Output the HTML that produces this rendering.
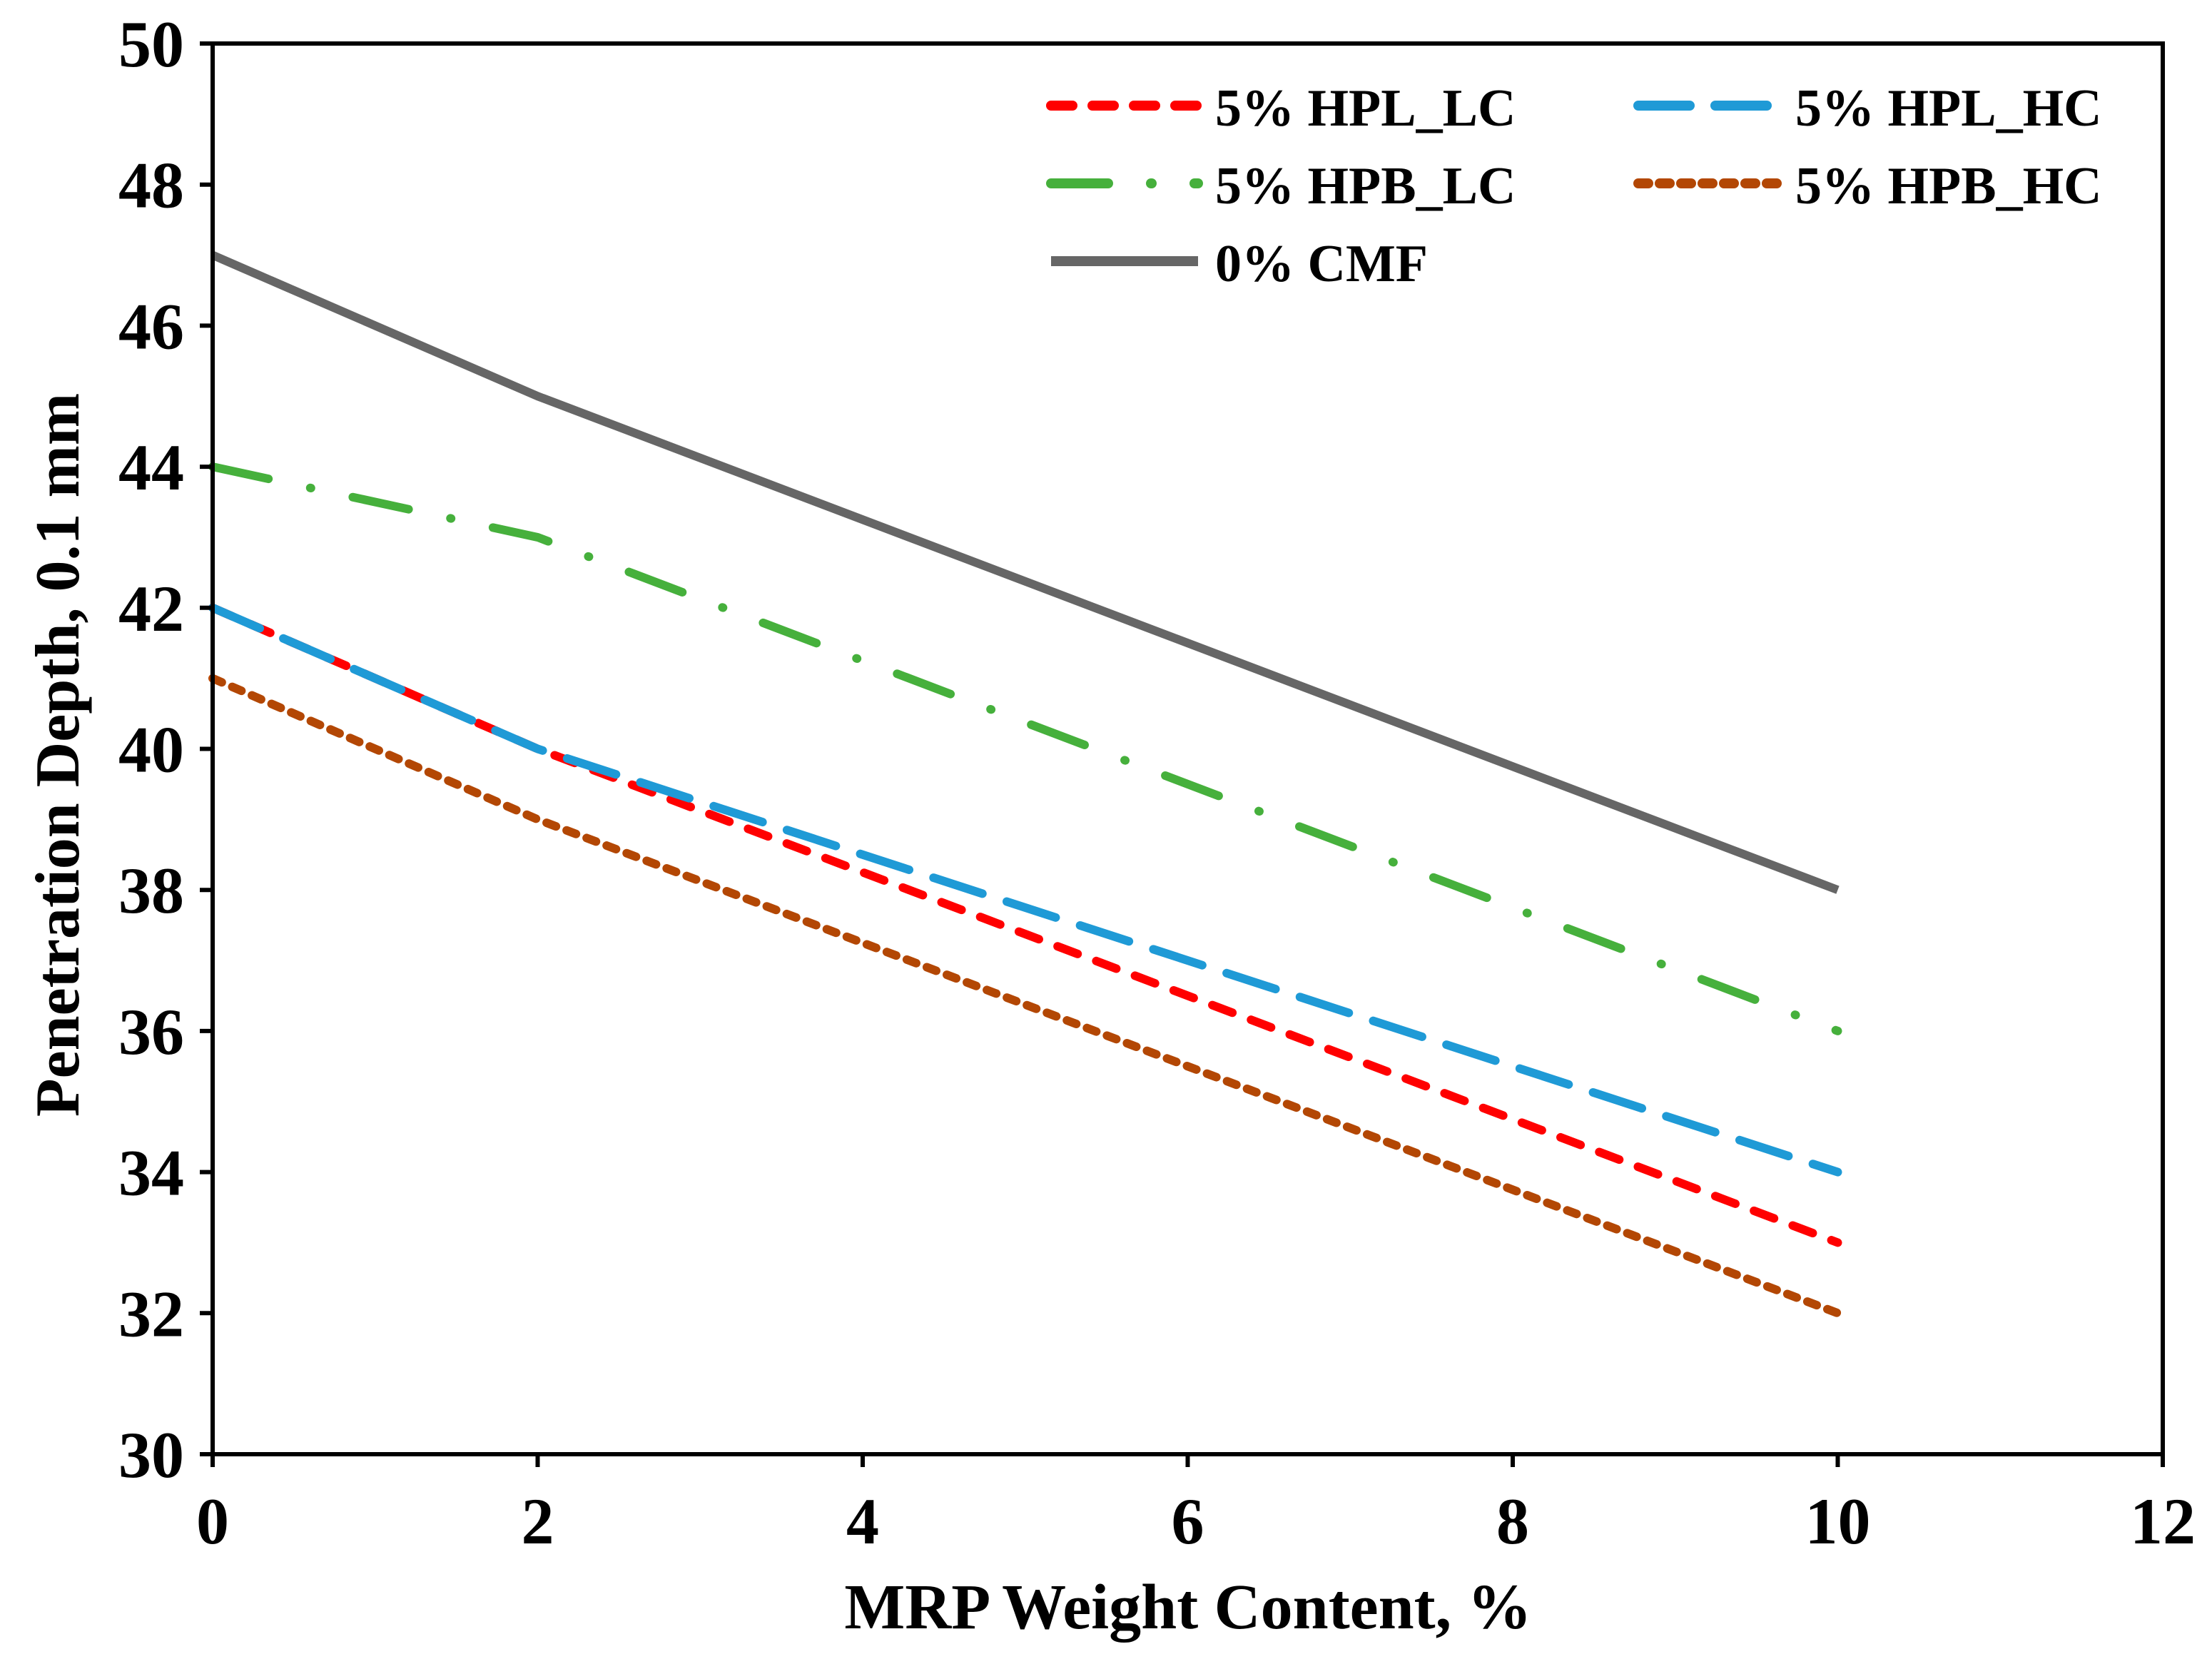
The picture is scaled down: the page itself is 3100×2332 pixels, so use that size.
<!DOCTYPE html>
<html><head><meta charset="utf-8"><style>
html,body{margin:0;padding:0;background:#fff}
svg text{font-family:"Liberation Serif",serif;font-weight:bold;fill:#000}
</style></head><body>
<svg id="chart" width="3100" height="2327" viewBox="0 0 3100 2327" xmlns="http://www.w3.org/2000/svg">
<g id="series"></g>
<g id="axes"></g>
<g id="legend"></g>
<text x="1665" y="2282" font-size="90" text-anchor="middle">MRP Weight Content, %</text>
<text x="0" y="0" font-size="88" text-anchor="middle" transform="translate(110,1058) rotate(-90)">Penetration Depth, 0.1 mm</text>
</svg>
<script>
const xValues = [0, 2, 10];
const seriesNames = ["5% HPL_LC", "5% HPL_HC", "5% HPB_LC", "5% HPB_HC", "0% CMF"];
const hplLC = [42, 40, 33];
const hplHC = [42, 40, 34];
const hpbLC = [44, 43, 36];
const hpbHC = [41, 39, 32];
const cmf = [47, 45, 38];
const xTicks = [0, 2, 4, 6, 8, 10, 12];
const yTicks = [30, 32, 34, 36, 38, 40, 42, 44, 46, 48, 50];

const L = 298, R = 3031, T = 61, B = 2038;
const xMin = 0, xMax = 12, yMin = 30, yMax = 50;
const sx = v => L + (v - xMin) / (xMax - xMin) * (R - L);
const sy = v => B - (v - yMin) / (yMax - yMin) * (B - T);
const NS = "http://www.w3.org/2000/svg";
function mk(tag, attrs, parent) {
  const e = document.createElementNS(NS, tag);
  for (const k in attrs) e.setAttribute(k, attrs[k]);
  parent.appendChild(e);
  return e;
}
const styles = [
  {c: "#ff0000", d: "30 28", cap: "round"},
  {c: "#1f9ad6", d: "72 36", cap: "round"},
  {c: "#46b03c", d: "80 60 1 60", cap: "round"},
  {c: "#b34704", d: "14 16", cap: "round"},
  {c: "#666666", d: "none", cap: "butt"}
];
const seriesData = [hplLC, hplHC, hpbLC, hpbHC, cmf];
const sg = document.getElementById("series");
const order = [4, 2, 0, 1, 3];
order.forEach(i => {
  const pts = xValues.map((x, j) => sx(x) + "," + sy(seriesData[i][j])).join(" ");
  const p = mk("polyline", {points: pts, fill: "none", stroke: styles[i].c, "stroke-width": 12, "stroke-dasharray": styles[i].d, "stroke-linecap": styles[i].cap, "stroke-linejoin": "round"}, sg);
  
  
});
const ag = document.getElementById("axes");
const frame = mk("rect", {x: L, y: T, width: R - L, height: B - T, fill: "none", stroke: "#000", "stroke-width": 6}, ag);


yTicks.forEach(v => {
  const t = mk("line", {x1: L - 18, x2: L, y1: sy(v), y2: sy(v), stroke: "#000", "stroke-width": 6}, ag);
  
  
  const tx = mk("text", {x: 258, y: sy(v) + 32, "font-size": 92, "text-anchor": "end"}, ag);
  tx.textContent = v;
  
  
});
xTicks.forEach(v => {
  const t = mk("line", {x1: sx(v), x2: sx(v), y1: B, y2: B + 18, stroke: "#000", "stroke-width": 6}, ag);
  
  
  const tx = mk("text", {x: sx(v), y: 2163, "font-size": 92, "text-anchor": "middle"}, ag);
  tx.textContent = v;
  
  
});
const lg = document.getElementById("legend");
const legPos = [[1467, 148], [2290, 148], [1467, 257], [2290, 257], [1467, 366]];
seriesNames.forEach((n, i) => {
  const [x, y] = legPos[i];
  const g = mk("g", {}, lg);
  
  
  mk("line", {x1: x + 6, x2: x + 212, y1: y, y2: y, stroke: styles[i].c, "stroke-width": 14, "stroke-dasharray": styles[i].d, "stroke-linecap": styles[i].cap}, g);
  const t = mk("text", {x: x + (i % 2 ? 226 : 236), y: y + 28, "font-size": 74}, g);
  t.textContent = n;
});
</script>
</body></html>
